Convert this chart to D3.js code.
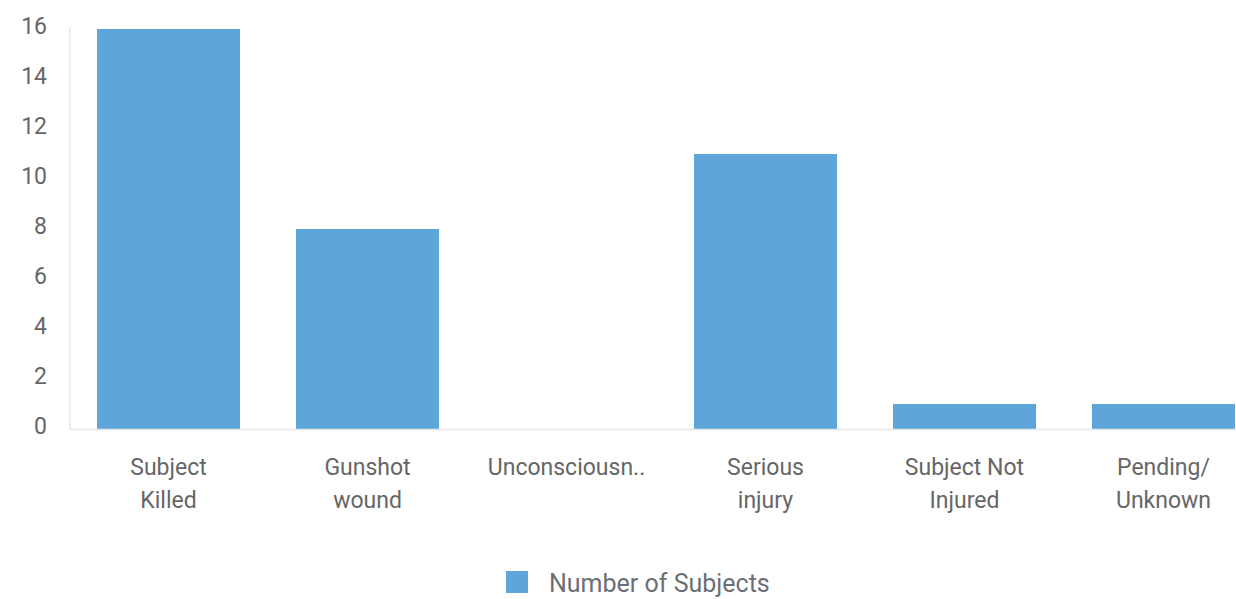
<!DOCTYPE html>
<html><head><meta charset="utf-8">
<script src="https://cdn.jsdelivr.net/npm/d3@7"></script>
<style>body{margin:0;background:#fff;}svg{display:block;font-family:Roboto,"Noto Sans",sans-serif;}</style>
</head><body>
<script>
const categories = [["Subject","Killed"],["Gunshot","wound"],["Unconsciousn.."],["Serious","injury"],["Subject Not","Injured"],["Pending/","Unknown"]];
const values = [16, 8, 0, 11, 1, 1];
const yTicks = [0, 2, 4, 6, 8, 10, 12, 14, 16];
const seriesName = "Number of Subjects";

(function () {
const W = 1236, H = 599;
const svg = d3.select("body").append("svg").attr("width", W).attr("height", H);
const left = 70, base = 429, plotTop = 29;
const x = d3.scaleBand().domain(d3.range(categories.length)).range([left, 1262]).paddingInner(0.2814).paddingOuter(0.1357);
const y = d3.scaleLinear().domain([0, 16]).range([base, plotTop]);
const color = "#5ea5da";

svg.append("line").attr("x1", left).attr("x2", left).attr("y1", base).attr("y2", 27).attr("stroke", "#e6e6e6").attr("stroke-width", 1.5);
svg.append("g").selectAll("text").data(yTicks).join("text")
  .attr("x", 47).attr("y", d => y(d) - 3).attr("dy", "0.35em").attr("text-anchor", "end")
  .attr("font-size", 23).attr("fill", "#666").text(d => d);
svg.append("g").selectAll("rect").data(values).join("rect")
  .attr("x", (d, i) => x(i)).attr("width", x.bandwidth())
  .attr("y", d => y(d)).attr("height", d => base - y(d)).attr("fill", color);
svg.append("line").attr("x1", left).attr("x2", W).attr("y1", base + 0.5).attr("y2", base + 0.5).attr("stroke", "#e6e6e6").attr("stroke-width", 1.5);
const xl = svg.append("g").selectAll("text").data(categories).join("text")
  .attr("text-anchor", "middle").attr("font-size", 23).attr("fill", "#666")
  .attr("transform", (d, i) => `translate(${x(i) + x.bandwidth() / 2},0)`);
xl.selectAll("tspan").data(d => d).join("tspan").attr("x", 0).attr("y", (d, j) => 475 + j * 33).text(d => d);
svg.append("rect").attr("x", 506).attr("y", 571).attr("width", 22).attr("height", 22).attr("fill", color);
svg.append("text").attr("x", 549).attr("y", 592).attr("font-size", 25).attr("fill", "#6b6f75").text(seriesName);
})();
</script>
</body></html>
